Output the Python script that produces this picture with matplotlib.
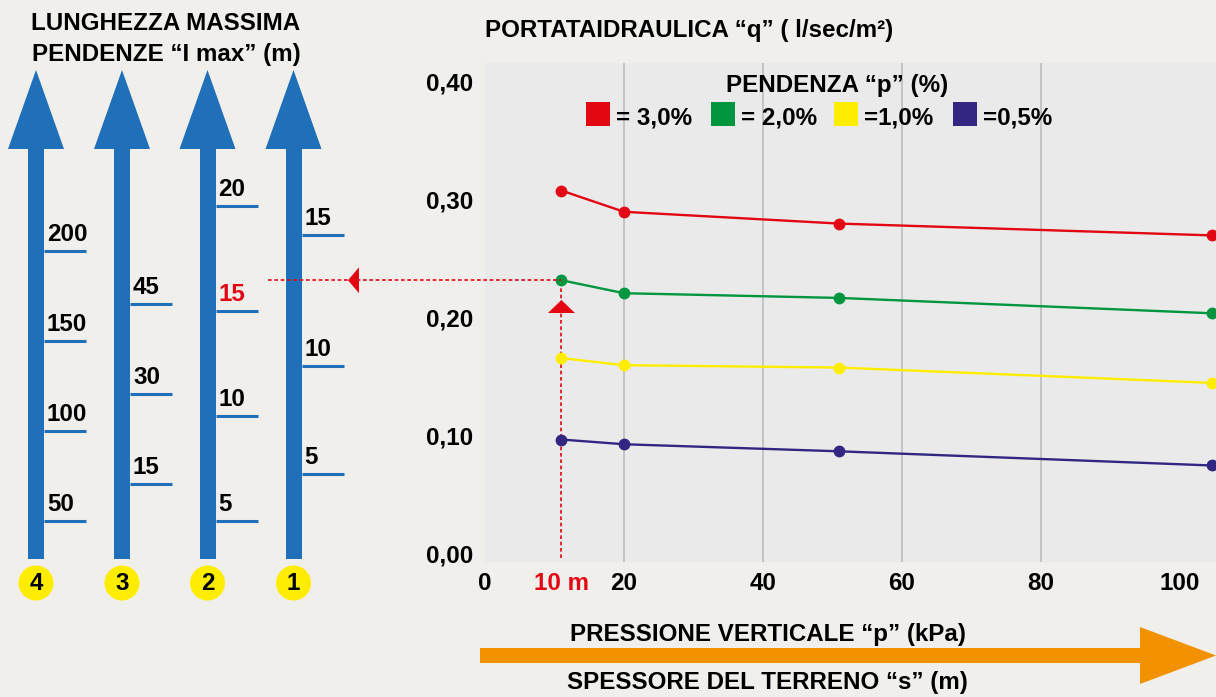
import matplotlib
matplotlib.use("Agg")
import matplotlib.pyplot as plt
from matplotlib.patches import Polygon, Rectangle, Circle

# ---------------- data ----------------
x_values = [11, 20, 51, 104.6]
q_30 = [0.308, 0.290, 0.280, 0.270]
q_20 = [0.232, 0.221, 0.217, 0.204]
q_10 = [0.166, 0.160, 0.158, 0.145]
q_05 = [0.097, 0.093, 0.087, 0.075]
series_labels = ["= 3,0%", "= 2,0%", "=1,0%", "=0,5%"]
legend_title = "PENDENZA \u201cp\u201d (%)"

y_ticks = [0.0, 0.1, 0.2, 0.3, 0.4]
y_tick_labels = ["0,00", "0,10", "0,20", "0,30", "0,40"]
x_ticks = [0, 20, 40, 60, 80, 100]
x_tick_labels = ["0", "20", "40", "60", "80", "100"]
x_grid = [20, 40, 60, 80]
marked_x = 11
marked_label = "10 m"

arrow_numbers = ["4", "3", "2", "1"]
arrow_tick_labels = [["50", "100", "150", "200"],
                     ["15", "30", "45"],
                     ["5", "10", "15", "20"],
                     ["5", "10", "15"]]
highlight_arrow = 2
highlight_label = "15"

title_left = ["LUNGHEZZA MASSIMA", "PENDENZE \u201cI max\u201d (m)"]
title_right = "PORTATAIDRAULICA \u201cq\u201d ( l/sec/m\u00b2)"
xlabel_top = "PRESSIONE VERTICALE \u201cp\u201d (kPa)"
xlabel_bottom = "SPESSORE DEL TERRENO \u201cs\u201d (m)"

# ---------------- layout / style ----------------
W, H = 1216, 697
BG = "#F0EFEB"
PLOT_BG = "#EAEAEA"
RED = "#E30613"
GREEN = "#009640"
YELLOW = "#FFED00"
NAVY = "#312783"
BLUE = "#1F70B8"
ORANGE = "#F39200"
colors = [RED, GREEN, YELLOW, NAVY]
FONT = dict(family="Liberation Sans", weight="bold", size=17.4)

arrow_x = [36, 122, 207.5, 293.5]
arrow_tick_y = [[521, 431, 341, 251],
                [484, 394, 304],
                [521, 416, 311, 206],
                [474, 366, 235]]

fig = plt.figure(figsize=(W / 100, H / 100), dpi=100, facecolor=BG)

# main chart axes
ax = fig.add_axes([485 / W, (H - 562) / H, (W - 485) / W, (562 - 63) / H])
ax.set_facecolor(PLOT_BG)
ax.set_xlim(0, 105.2)
ax.set_ylim(-0.0068, 0.4161)
for s in ax.spines.values():
    s.set_visible(False)
for gx in x_grid:
    ax.axvline(gx, color="#BDBDBD", lw=1.2, zorder=1)

for ys, c in zip([q_30, q_20, q_10, q_05], colors):
    ax.plot(x_values, ys, color=c, lw=1.7, marker="o", ms=8.5,
            mec="none", clip_on=False, zorder=4)

ax.set_yticks(y_ticks)
ax.set_yticklabels(y_tick_labels, fontdict=FONT)
ax.set_xticks(x_ticks + [marked_x])
ax.set_xticklabels(x_tick_labels + [marked_label], fontdict=FONT)
ax.get_xticklabels()[-1].set_color(RED)
ax.tick_params(axis="y", length=0, pad=8.6)
ax.tick_params(axis="x", length=0, pad=7.5)

# red dashed vertical from the marked point down
ylo = ax.get_ylim()[0]
ax.plot([marked_x, marked_x], [ylo + 0.003, q_20[0]], color=RED, lw=1.2,
        ls=(0, (2.2, 1.6)), zorder=3)

# overlay axes in pixel coords
ov = fig.add_axes([0, 0, 1, 1])
ov.set_xlim(0, W)
ov.set_ylim(H, 0)
ov.axis("off")
ov.set_zorder(5)
ov.patch.set_visible(False)

# marked point pixel position
dx, dy = ax.transData.transform((marked_x, q_20[0]))
px, py = dx, H - dy

# left arrows
for i, cx in enumerate(arrow_x):
    ov.add_patch(Rectangle((cx - 8, 148), 16, 559 - 148, color=BLUE, lw=0))
    ov.add_patch(Polygon([(cx - 28, 149), (cx + 28, 149), (cx, 70)],
                         closed=True, color=BLUE, lw=0))
    for lab, ty in zip(arrow_tick_labels[i], arrow_tick_y[i]):
        ov.plot([cx + 8, cx + 50], [ty, ty], color=BLUE, lw=2.2,
                solid_capstyle="butt")
        col = RED if (i == highlight_arrow and lab == highlight_label) else "black"
        ov.text(cx + 11, ty - 10, lab, color=col, ha="left", va="baseline", **FONT)
    ov.add_patch(Circle((cx, 583), 17.5, color=YELLOW, lw=0))
    ov.text(cx, 584, arrow_numbers[i], ha="center", va="center", color="black", **FONT)

# red dashed horizontal + triangles
ov.plot([268, px], [py, py], color=RED, lw=1.2, ls=(0, (2.2, 1.6)))
ov.add_patch(Polygon([(348, py), (359, py - 13), (359, py + 13)], closed=True,
                     color=RED, lw=0))
ov.add_patch(Polygon([(px, 300), (px - 13.5, 313), (px + 13.5, 313)], closed=True,
                     color=RED, lw=0))

# titles
ov.text(166, 30.5, title_left[0], ha="center", va="baseline", **FONT)
ov.text(166, 60.5, title_left[1], ha="center", va="baseline", **FONT)
ov.text(485, 37.5, title_right, ha="left", va="baseline", **FONT)

# legend
ov.text(837, 92, legend_title, ha="center", va="baseline", **FONT)
leg_sq_x = [586, 711, 834, 953]
for sx, lab, c in zip(leg_sq_x, series_labels, colors):
    ov.add_patch(Rectangle((sx, 102), 24, 24, color=c, lw=0))
    ov.text(sx + 30, 124, lab, ha="left", va="baseline", **FONT)

# orange arrow + labels
ov.add_patch(Rectangle((480, 648), 660, 15, color=ORANGE, lw=0))
ov.add_patch(Polygon([(1140, 627), (1216, 655.5), (1140, 684)], closed=True,
                     color=ORANGE, lw=0))
ov.text(768, 641, xlabel_top, ha="center", va="baseline", **FONT)
ov.text(767, 689, xlabel_bottom, ha="center", va="baseline", **FONT)

fig.savefig("out.png", dpi=100, facecolor=BG)
